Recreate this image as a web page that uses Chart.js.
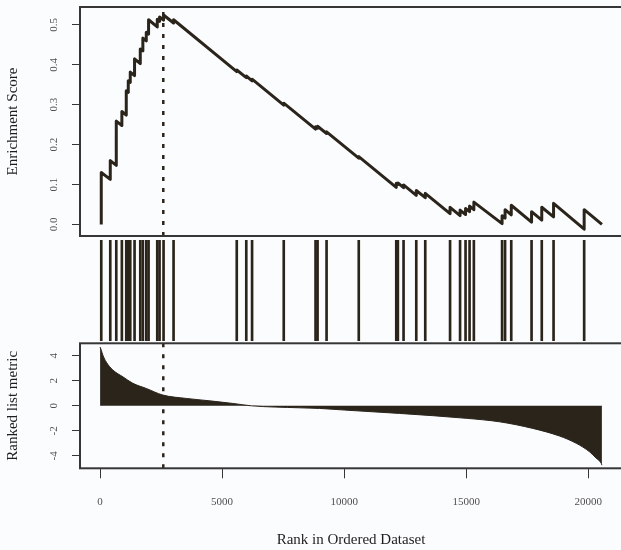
<!DOCTYPE html>
<html>
<head>
<meta charset="utf-8">
<script src="https://cdn.jsdelivr.net/npm/chart.js@4/dist/chart.umd.min.js"></script>
<style>
  html, body { margin: 0; padding: 0; width: 621px; height: 550px; overflow: hidden; background: #fbfcfe; }
  #wrap { position: relative; width: 630px; height: 550px; }
  #wrap canvas { position: absolute; left: 0; top: 0; }
</style>
</head>
<body>
<div id="wrap">
  <canvas id="esChart" width="630" height="550"></canvas>
  <canvas id="hitChart" width="630" height="550"></canvas>
  <canvas id="metricChart" width="630" height="550"></canvas>
</div>
<script>
/* GSEA style plot: running enrichment score, hit positions, ranked metric */

// running enrichment score, vertices of the walk (before/after each hit)
const esRanks = [
  49, 49, 418, 418, 664, 664, 893, 893, 1073, 1073, 1155, 1155, 1237, 1237,
  1413, 1413, 1647, 1647, 1753, 1753, 1893, 1893, 1987, 1987, 2343, 2343,
  2437, 2437, 2601, 2601, 3011, 3011, 5600, 5600, 5990, 5990, 6227, 6227,
  7525, 7525, 8828, 8828, 8910, 8910, 9279, 9279, 10598, 10598, 12134, 12134,
  12200, 12200, 12433, 12433, 12954, 12954, 13322, 13322, 14338, 14338,
  14748, 14748, 14973, 14973, 15137, 15137, 15313, 15313, 16469, 16469,
  16592, 16592, 16845, 16845, 17677, 17677, 18095, 18095, 18578, 18578,
  19832, 19832, 20560,
];
const esScores = [
  0.000, 0.130, 0.113, 0.160, 0.148, 0.259, 0.248, 0.283, 0.274, 0.335, 0.331, 0.360, 0.356, 0.382,
  0.373, 0.415, 0.403, 0.440, 0.435, 0.467, 0.460, 0.482, 0.477, 0.513, 0.495, 0.514,
  0.509, 0.520, 0.512, 0.525, 0.505, 0.513, 0.383, 0.387, 0.368, 0.372, 0.360, 0.364,
  0.299, 0.304, 0.239, 0.245, 0.241, 0.246, 0.228, 0.232, 0.166, 0.170, 0.093, 0.103,
  0.100, 0.104, 0.092, 0.099, 0.073, 0.085, 0.067, 0.078, 0.027, 0.043,
  0.022, 0.036, 0.025, 0.040, 0.032, 0.046, 0.037, 0.056, 0.002, 0.022,
  0.016, 0.037, 0.024, 0.048, 0.006, 0.032, 0.011, 0.043, 0.019, 0.053,
  -0.012, 0.037, 0.000,
];

// positions of gene set members in the ranked list
const hitRanks = [
  49, 418, 664, 893, 1073, 1155, 1237, 1413, 1647, 1753, 1893, 1987, 2343, 2437,
  2601, 3011, 5600, 5990, 6227, 7525, 8828, 8910, 9279, 10598, 12134, 12200,
  12433, 12954, 13322, 14338, 14748, 14973, 15137, 15313, 16469, 16592, 16845,
  17677, 18095, 18578, 19832,
];

// ranked list metric
const metricRanks = [
  0, 50, 115, 254, 525, 934, 1344, 1892, 2573, 3531, 4486, 5440, 6200, 8173,
  8990, 10016, 12270, 15002, 16366, 17730, 18824, 19508, 20053, 20327, 20532, 20560,
];
const metricValues = [
  4.7, 4.45, 4.05, 3.5, 2.86, 2.32, 1.8, 1.39, 0.86, 0.59, 0.4, 0.19, 0.0, -0.16,
  -0.21, -0.34, -0.61, -1.0, -1.28, -1.81, -2.42, -3.0, -3.68, -4.2, -4.6, -4.75,
];

const peakRank = 2590;
const esTicks = [0.0, 0.1, 0.2, 0.3, 0.4, 0.5];
const metricTicks = [-4, -2, 0, 2, 4];
const rankTicks = [0, 5000, 10000, 15000, 20000];

const X_MIN = -822, X_MAX = 21382;
const INK = '#2a241b';
const SERIF = '"Liberation Serif", "Times New Roman", serif';

Chart.defaults.font.family = SERIF;
Chart.defaults.animation = false;

/* ──── helpers ────────────────────────────────────────── */

const boxPlugin = {
  id: 'panelBox',
  afterDraw(chart) {
    const { ctx, chartArea: a } = chart;
    ctx.save();
    ctx.strokeStyle = '#363636';
    ctx.lineWidth = 2;
    ctx.strokeRect(a.left, a.top, a.right - a.left, a.bottom - a.top);
    ctx.restore();
  },
};

// y tick labels written parallel to the axis, like base R graphics
function sideLabels(values, fmt) {
  return {
    id: 'sideLabels',
    afterDraw(chart) {
      const { ctx } = chart;
      const y = chart.scales.y;
      ctx.save();
      ctx.font = '11px ' + SERIF;
      ctx.fillStyle = '#505050';
      ctx.textAlign = 'center';
      ctx.textBaseline = 'middle';
      values.forEach(v => {
        ctx.save();
        ctx.translate(54, y.getPixelForValue(v));
        ctx.rotate(-Math.PI / 2);
        ctx.fillText(fmt(v), 0, 0);
        ctx.restore();
      });
      ctx.restore();
    },
  };
}

function yAxis(min, max, ticks, title) {
  return {
    min, max,
    afterBuildTicks: s => { s.ticks = ticks.map(v => ({ value: v })); },
    afterFit: s => { s.width = 80; },
    ticks: { display: false },
    grid: { drawOnChartArea: false, drawTicks: true, tickLength: 8, tickColor: '#363636', lineWidth: 1 },
    border: { display: false },
    title: {
      display: true, text: title, color: '#1e1e1e',
      font: { size: 15, family: SERIF }, padding: { top: 4, bottom: 0 },
    },
  };
}

function peakLine(min, max) {
  return {
    type: 'line',
    data: [{ x: peakRank, y: min }, { x: peakRank, y: max }],
    borderColor: INK,
    borderWidth: 2.5,
    borderDash: [4, 7],
    pointRadius: 0,
  };
}

/* ──── running enrichment score ───────────────────────── */

new Chart(document.getElementById('esChart'), {
  type: 'line',
  data: {
    datasets: [
      {
        data: esRanks.map((r, i) => ({ x: r, y: esScores[i] })),
        borderColor: INK,
        borderWidth: 3,
        pointRadius: 0,
        tension: 0,
        borderJoinStyle: 'round',
      },
      peakLine(-0.029, 0.545),
    ],
  },
  options: {
    responsive: false,
    layout: { padding: { top: 7, bottom: 314, right: 8, left: 0 } },
    plugins: { legend: { display: false }, tooltip: { enabled: false } },
    scales: {
      x: { type: 'linear', min: X_MIN, max: X_MAX, display: false },
      y: yAxis(-0.029, 0.545, esTicks, 'Enrichment Score'),
    },
  },
  plugins: [boxPlugin, sideLabels(esTicks, v => v.toFixed(1))],
});

/* ──── hits ───────────────────────────────────────────── */

new Chart(document.getElementById('hitChart'), {
  type: 'bar',
  data: {
    datasets: [{
      data: hitRanks.map(r => ({ x: r, y: 1 })),
      backgroundColor: INK,
      barThickness: 2,
    }],
  },
  options: {
    responsive: false,
    layout: { padding: { top: 240, bottom: 209, right: 8, left: 80 } },
    plugins: { legend: { display: false }, tooltip: { enabled: false } },
    scales: {
      x: { type: 'linear', min: X_MIN, max: X_MAX, offset: false, grid: { offset: false }, display: false },
      y: { min: 0, max: 1, display: false },
    },
  },
});

/* ──── ranked list metric ─────────────────────────────── */

new Chart(document.getElementById('metricChart'), {
  type: 'line',
  data: {
    datasets: [
      {
        data: metricRanks.map((r, i) => ({ x: r, y: metricValues[i] })),
        borderColor: INK,
        borderWidth: 1,
        backgroundColor: INK,
        fill: 'origin',
        pointRadius: 0,
        cubicInterpolationMode: 'monotone',
      },
      peakLine(-5, 5),
    ],
  },
  options: {
    responsive: false,
    layout: { padding: { top: 343.3, bottom: 0, right: 8, left: 0 } },
    plugins: { legend: { display: false }, tooltip: { enabled: false } },
    scales: {
      x: {
        type: 'linear', min: X_MIN, max: X_MAX,
        afterBuildTicks: s => { s.ticks = rankTicks.map(v => ({ value: v })); },
        afterFit: s => { s.height = 550 - 468.3; },
        ticks: { color: '#505050', font: { size: 11, family: SERIF }, padding: 17, callback: v => String(v), maxRotation: 0 },
        grid: { drawOnChartArea: false, drawTicks: true, tickLength: 10, tickColor: '#363636', lineWidth: 1 },
        border: { display: false },
        title: {
          display: true, text: 'Rank in Ordered Dataset', color: '#1e1e1e',
          font: { size: 15, family: SERIF }, padding: { top: 0, bottom: 1 },
        },
      },
      y: yAxis(-5, 5, metricTicks, 'Ranked list metric'),
    },
  },
  plugins: [boxPlugin, sideLabels(metricTicks, v => String(v))],
});
</script>
</body>
</html>
